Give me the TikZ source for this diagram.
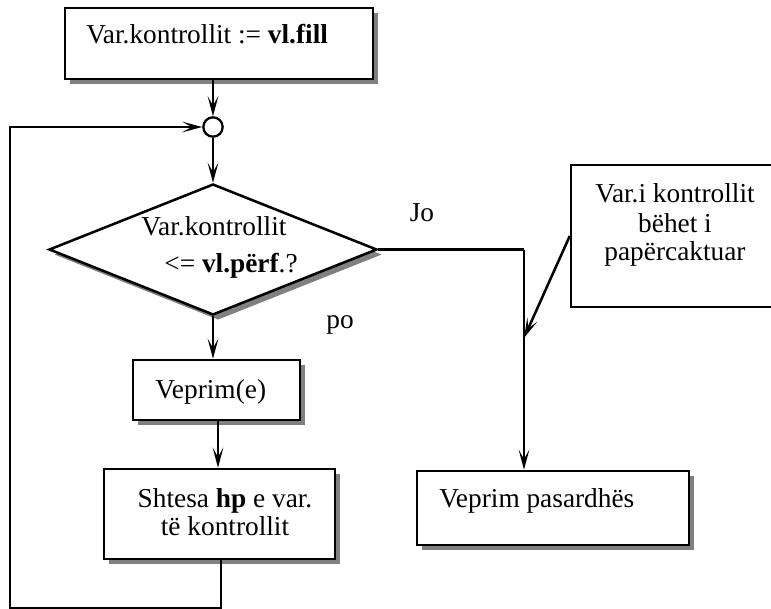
\documentclass[tikz,border=0pt]{standalone}
\usepackage{fontspec}
\setmainfont{Liberation Serif}
\usetikzlibrary{shapes.geometric,shadows,arrows.meta}
\begin{document}
\begin{tikzpicture}[x=0.75pt,y=-0.75pt,
  box/.style={draw=black, line width=1.9pt, fill=white, inner sep=0pt, rectangle},
  shad/.style={drop shadow={shadow xshift=3.8pt, shadow yshift=-3.8pt, fill=black!50, opacity=1}},
  txt/.style={inner sep=0pt, font=\fontsize{20.5}{24}\selectfont},
  conn/.style={line width=1.9pt, -{Stealth[length=15pt,width=8pt,inset=7pt]}},
  plain/.style={line width=1.6pt}]
\useasboundingbox (0,0) rectangle (771,608);
\clip (0,0) rectangle (771,608);
% boxes
\node[box, shad, minimum width=231pt, minimum height=53.25pt] (top) at (219,43.5) {};
\node[txt, anchor=base west] (ttop) at (86,43) {Var.kontrollit := \textbf{vl.fill}};
\node[draw=black, line width=1.7pt, circle, minimum size=14.5pt, inner sep=0pt, fill=white] (circ) at (213,127) {};
\node[draw=black, line width=1.9pt, fill=white, diamond, inner sep=0pt, minimum width=246pt, minimum height=98.25pt, shad] (dia) at (213,249.5) {};
\node[txt, anchor=base] (td1) at (214,235) {Var.kontrollit};
\node[txt, anchor=base] (td2) at (231,272) {<= \textbf{vl.përf}.?};
\node[txt, anchor=base] (jo) at (422,221) {Jo};
\node[txt, anchor=base] (po) at (340,328) {po};
\node[box, shad, minimum width=125.25pt, minimum height=45pt] (ve) at (216.5,390) {};
\node[txt, anchor=base west] (tve) at (155,398) {Veprim(e)};
\node[box, shad, minimum width=173.25pt, minimum height=67.5pt] (sh) at (219.5,514) {};
\node[txt, anchor=base] (tsh1) at (225,507) {Shtesa \textbf{hp} e var.};
\node[txt, anchor=base] (tsh2) at (225,535) {të kontrollit};
\node[box, shad, minimum width=204pt, minimum height=55.5pt] (vp) at (553,508) {};
\node[txt, anchor=base west] (tvp) at (439,507) {Veprim pasardhës};
\node[box, minimum width=171.75pt, minimum height=106.5pt] (call) at (685.5,236) {};
\node[txt, anchor=base] (tc1) at (675,202) {Var.i kontrollit};
\node[txt, anchor=base] (tc2) at (675,232) {bëhet i};
\node[txt, anchor=base] (tc3) at (675,260) {papërcaktuar};
% connectors
\draw[conn] (circ.north |- top.south) -- (circ.north);
\draw[conn] (circ.south) -- (dia.north);
\draw[conn] (dia.south) -- (dia.south |- ve.north);
\draw[conn] (218,0 |- ve.south) -- (218,0 |- sh.north);
\coordinate (jx) at (524,249.5);
\coordinate (lb) at (10,608.4);
\coordinate (cp) at (524,338);
\draw[plain] (dia.east) -- (jx);
\draw[conn] (jx) -- (jx |- vp.north);
\draw[conn] (call.west) -- (cp);
\draw[conn] (221,0 |- sh.south) |- (lb) |- (circ.west);
\end{tikzpicture}
\end{document}
